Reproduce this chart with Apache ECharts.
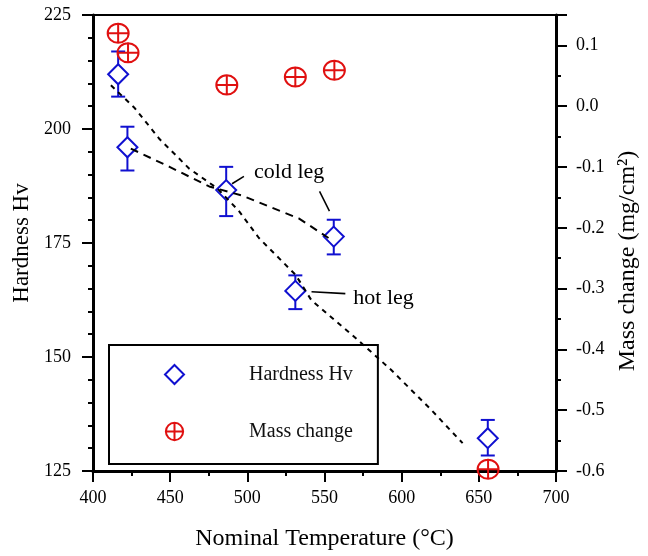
<!DOCTYPE html>
<html><head><meta charset="utf-8">
<script src="https://cdn.jsdelivr.net/npm/echarts@6/dist/echarts.min.js"></script>
<style>html,body{margin:0;padding:0;background:#fff}#c{width:648px;height:556px}</style>
</head><body><div id="c"></div>
<script>
// Hardness data
const hardTemps = [416.3, 422.3, 486.3, 531.1, 556.0, 655.8];
const hardness = [212.0, 196.0, 186.6, 164.5, 176.4, 132.2];
const hardLow = [207.1, 190.9, 180.9, 160.5, 172.5, 128.4];
const hardHigh = [217.0, 200.5, 191.7, 167.9, 180.1, 136.2];
// Mass change data
const massTemps = [416.3, 422.7, 486.7, 531.1, 556.4, 656.0];
const massChange = [0.120, 0.088, 0.035, 0.048, 0.059, -0.597];
// Trend lines (hardness axis)
const hotLegT = [411.6, 427.0, 443.1, 462.4, 480.5, 494.6, 507.5, 531.3, 541.6, 567.4, 593.1, 618.9, 639.5];
const hotLegH = [209.6, 204.6, 197.8, 191.3, 187.0, 182.0, 176.1, 168.0, 162.4, 155.0, 147.2, 138.5, 131.1];
const coldLegT = [424.5, 449.6, 475.3, 496.6, 514.0, 533.3, 552.6];
const coldLegH = [195.7, 191.7, 187.4, 185.4, 183.0, 180.4, 176.1];
// Annotations
const annoText = ['cold leg', 'hot leg'];
const annoPos = [[527.1, 190.6], [588.3, 163.0]];
const leaders = [[[490.1, 188.0], [497.8, 189.6]], [[546.8, 186.3], [553.2, 182.0]], [[541.6, 164.3], [563.5, 163.9]]];
// Axes
const xMin = 400, xMax = 700, xStep = 50;
const hMin = 125, hMax = 225, hStep = 25;
const mMin = -0.6, mMax = 0.15, mStep = 0.1;

const BLUE = '#1010d0', RED = '#e01010', FONT = 'Liberation Serif';
const crossCircle = 'path://M10,0 A10,10 0 1 1 10,20 A10,10 0 1 1 10,0 Z M10,-1 L10,21 M0,10 L20,10';

const chart = echarts.init(document.getElementById('c'));
const axisCommon = {
  axisLine: {show: true, onZero: false, lineStyle: {color: '#000', width: 3}},
  axisTick: {show: true, length: 11, lineStyle: {color: '#000', width: 2}},
  minorTick: {show: true, length: 5, lineStyle: {color: '#000', width: 2}},
  splitLine: {show: false},
  axisLabel: {color: '#000', fontFamily: FONT, fontSize: 18},
  nameTextStyle: {color: '#000', fontFamily: FONT, fontSize: 24}
};
chart.setOption({
  animation: false,
  backgroundColor: '#fff',
  grid: {left: 93, right: 90, top: 15, bottom: 81, show: true, borderColor: '#000', borderWidth: 2, backgroundColor: 'transparent'},
  xAxis: Object.assign({}, axisCommon, {
    type: 'value', min: xMin, max: xMax, interval: xStep,
    minorTick: Object.assign({}, axisCommon.minorTick, {splitNumber: 2}),
    axisLabel: Object.assign({}, axisCommon.axisLabel, {margin: 18}),
    name: 'Nominal Temperature (°C)', nameLocation: 'middle', nameGap: 56
  }),
  yAxis: [
    Object.assign({}, axisCommon, {
      type: 'value', min: hMin, max: hMax, interval: hStep, position: 'left',
      minorTick: Object.assign({}, axisCommon.minorTick, {splitNumber: 5}),
      axisLabel: Object.assign({}, axisCommon.axisLabel, {margin: 22}),
      name: 'Hardness Hv', nameLocation: 'middle', nameGap: 60,
      nameTextStyle: Object.assign({}, axisCommon.nameTextStyle, {fontSize: 23})
    }),
    Object.assign({}, axisCommon, {
      type: 'value', min: mMin, max: mMax, interval: mStep, position: 'right',
      minorTick: Object.assign({}, axisCommon.minorTick, {splitNumber: 2}),
      axisLabel: Object.assign({}, axisCommon.axisLabel, {margin: 20, showMaxLabel: false,
        formatter: v => v.toFixed(1)}),
      name: 'Mass change (mg/cm²)', nameLocation: 'middle', nameGap: 60,
      nameTextStyle: Object.assign({}, axisCommon.nameTextStyle, {padding: [0, 36, 0, 0]})
    })
  ],
  legend: {
    orient: 'vertical', left: 109, top: 345, selectedMode: false,
    borderColor: '#000', borderWidth: 2, padding: [19, 25, 22, 55], itemGap: 36,
    itemWidth: 19, itemHeight: 19,
    textStyle: {color: '#111', fontFamily: FONT, fontSize: 20, lineHeight: 20, padding: [0, 0, 0, 60]},
    data: [{name: 'Hardness Hv', icon: 'diamond'}, {name: 'Mass change', icon: crossCircle}]
  },
  series: [
    {
      type: 'custom', name: 'errbars', yAxisIndex: 0, z: 2, silent: true,
      data: hardTemps.map((t, i) => [t, hardLow[i], hardHigh[i]]),
      renderItem: function (params, api) {
        const lo = api.coord([api.value(0), api.value(1)]);
        const hi = api.coord([api.value(0), api.value(2)]);
        const w = 7, st = {stroke: BLUE, lineWidth: 2};
        return {type: 'group', children: [
          {type: 'line', shape: {x1: lo[0], y1: lo[1], x2: hi[0], y2: hi[1]}, style: st},
          {type: 'line', shape: {x1: lo[0] - w, y1: lo[1], x2: lo[0] + w, y2: lo[1]}, style: st},
          {type: 'line', shape: {x1: hi[0] - w, y1: hi[1], x2: hi[0] + w, y2: hi[1]}, style: st}
        ]};
      }
    },
    {
      type: 'scatter', name: 'Hardness Hv', yAxisIndex: 0, z: 3,
      symbol: 'diamond', symbolSize: 20,
      itemStyle: {color: '#fff', borderColor: BLUE, borderWidth: 2, opacity: 1},
      data: hardTemps.map((t, i) => [t, hardness[i]])
    },
    {
      type: 'scatter', name: 'Mass change', yAxisIndex: 1, z: 3,
      symbol: crossCircle, symbolSize: 21,
      itemStyle: {color: 'rgba(0,0,0,0)', borderColor: RED, borderWidth: 2, opacity: 1},
      data: massTemps.map((t, i) => [t, massChange[i]])
    },
    {
      type: 'line', name: 'hot', yAxisIndex: 0, z: 4, symbol: 'none', silent: true,
      lineStyle: {color: '#000', width: 2, type: [5, 5]},
      data: hotLegT.map((t, i) => [t, hotLegH[i]]),
      markLine: {
        silent: true, symbol: ['none', 'none'], label: {show: false},
        lineStyle: {color: '#000', width: 1.6, type: 'solid'},
        data: leaders.map(l => [{coord: l[0]}, {coord: l[1]}])
      },
      markPoint: {
        silent: true, symbol: 'circle', symbolSize: 0,
        label: {show: true, position: 'inside', color: '#000', fontFamily: FONT, fontSize: 22},
        data: annoText.map((t, i) => ({coord: annoPos[i], value: t, label: {formatter: t}}))
      }
    },
    {
      type: 'line', name: 'cold', yAxisIndex: 0, z: 4, symbol: 'none', silent: true,
      lineStyle: {color: '#000', width: 2, type: [8, 6]},
      data: coldLegT.map((t, i) => [t, coldLegH[i]])
    }
  ]
});
</script></body></html>
